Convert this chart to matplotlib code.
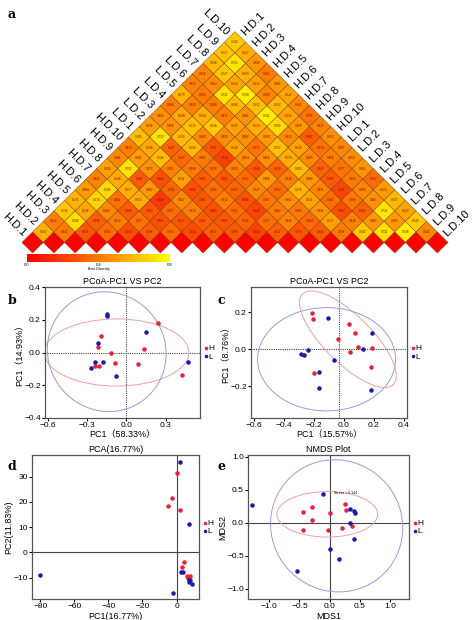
import numpy as np
import matplotlib
matplotlib.use('Agg')
import matplotlib.pyplot as plt
from matplotlib.patches import Polygon, Ellipse
from matplotlib.colors import LinearSegmentedColormap

plt.rcParams['font.family'] = ['Liberation Sans', 'Noto Sans CJK SC', 'DejaVu Sans']

samples = ['H.D.%d' % k for k in range(1, 11)] + ['L.D.%d' % k for k in range(1, 11)]

# upper triangle of beta diversity, row i holds values for j > i
beta_rows = [
    [0.562, 0.412, 0.630, 0.571, 0.494, 0.421, 0.508, 0.441, 0.415, 0.605, 0.506, 0.468, 0.408, 0.579, 0.422, 0.436, 0.588, 0.617, 0.642],
    [0.401, 0.694, 0.536, 0.674, 0.688, 0.546, 0.711, 0.501, 0.538, 0.712, 0.468, 0.540, 0.420, 0.405, 0.452, 0.627, 0.721, 0.557],
    [0.285, 0.308, 0.443, 0.366, 0.557, 0.291, 0.473, 0.604, 0.327, 0.599, 0.613, 0.558, 0.410, 0.712, 0.524, 0.563, 0.488],
    [0.356, 0.412, 0.298, 0.551, 0.482, 0.264, 0.421, 0.347, 0.593, 0.446, 0.634, 0.417, 0.586, 0.749, 0.512, 0.402],
    [0.254, 0.377, 0.290, 0.184, 0.336, 0.511, 0.398, 0.402, 0.281, 0.456, 0.520, 0.466, 0.612, 0.430, 0.481],
    [0.298, 0.265, 0.357, 0.447, 0.262, 0.301, 0.378, 0.214, 0.519, 0.468, 0.550, 0.741, 0.592, 0.522],
    [0.353, 0.277, 0.413, 0.291, 0.366, 0.295, 0.413, 0.454, 0.372, 0.498, 0.689, 0.533, 0.442],
    [0.244, 0.305, 0.260, 0.412, 0.327, 0.351, 0.284, 0.466, 0.612, 0.453, 0.498, 0.376],
    [0.312, 0.283, 0.355, 0.268, 0.447, 0.498, 0.319, 0.553, 0.519, 0.301, 0.422],
    [0.296, 0.331, 0.222, 0.387, 0.352, 0.416, 0.603, 0.445, 0.374, 0.463],
    [0.218, 0.367, 0.402, 0.461, 0.576, 0.488, 0.322, 0.409, 0.437],
    [0.312, 0.426, 0.393, 0.521, 0.431, 0.292, 0.377, 0.458],
    [0.275, 0.344, 0.481, 0.362, 0.226, 0.403, 0.481],
    [0.304, 0.517, 0.255, 0.388, 0.439, 0.352],
    [0.398, 0.416, 0.314, 0.467, 0.505],
    [0.642, 0.487, 0.721, 0.587],
    [0.711, 0.493, 0.523],
    [0.748, 0.646],
    [0.442],
]

# ordination coordinates
b_H_x = [0.24, -0.195, -0.22, -0.12, -0.09, 0.13, 0.09, 0.425, -0.24, -0.21]
b_H_y = [0.18, 0.10, 0.035, -0.005, -0.065, 0.02, -0.07, -0.135, -0.085, -0.085]
b_L_x = [-0.15, -0.15, 0.15, -0.22, -0.24, -0.18, -0.27, -0.08, 0.47]
b_L_y = [0.235, 0.22, 0.125, 0.06, -0.06, -0.06, -0.095, -0.145, -0.06]

c_H_x = [-0.215, -0.21, -0.04, 0.033, 0.075, 0.09, 0.04, 0.185, 0.18, -0.2]
c_H_y = [0.196, 0.163, 0.057, 0.137, 0.089, 0.011, -0.017, 0.006, -0.096, -0.128]
c_L_x = [-0.11, 0.185, 0.125, -0.24, -0.29, -0.27, -0.068, -0.167, -0.167, 0.18]
c_L_y = [0.17, 0.089, 0.0, -0.004, -0.026, -0.033, -0.056, -0.124, -0.206, -0.222]

d_H_x = [0.0, -2.9, -4.9, 1.9, 4.3, 3.3, 6.2, 7.8, 7.0, 6.5]
d_H_y = [31.2, 21.5, 18.4, 16.6, -3.8, -5.7, -9.3, -9.3, -10.1, -9.6]
d_L_x = [1.8, 7.6, -80.2, 2.5, 3.7, 7.2, 8.2, 7.6, 9.1, -1.9]
d_L_y = [35.9, 11.2, -8.8, -7.6, -7.6, -10.9, -10.9, -11.6, -12.5, -16.2]

e_H_x = [0.26, 0.265, -0.3, -0.44, 0.0, -0.29, 0.21, 0.37, -0.445, -0.03]
e_H_y = [0.285, 0.2, 0.235, 0.17, 0.145, 0.05, -0.075, -0.04, -0.105, -0.105]
e_L_x = [-1.29, -0.11, 0.34, 0.4, 0.42, 0.34, 0.4, 0.0, 0.15, -0.545]
e_L_y = [0.275, 0.435, 0.215, 0.185, 0.145, -0.005, -0.24, -0.4, -0.555, -0.73]

RED = '#e8213a'
BLUE = '#1a1aa8'
W, H = 474, 620


def px_axes(fig, left, top, right, bottom):
    return fig.add_axes([left / W, 1 - bottom / H, (right - left) / W, (bottom - top) / H])


fig = plt.figure(figsize=(4.74, 6.2), dpi=100)
cmap = LinearSegmentedColormap.from_list('beta', ['#ff0000', '#ff7a00', '#ffff00'])

# ---- a: triangle heatmap
ax = px_axes(fig, 0, 0, 474, 265)
ax.set_xlim(-1.53, 20.72)
ax.set_ylim(-1.07, 11.5)
ax.axis('off')
n = len(samples)
for i in range(n):
    for j in range(i, n):
        v = 0.0 if i == j else beta_rows[i][j - i - 1]
        cx, cy = (i + j) / 2, (j - i) / 2
        poly = Polygon([(cx - 0.5, cy), (cx, cy + 0.5), (cx + 0.5, cy), (cx, cy - 0.5)],
                       closed=True, facecolor=cmap(v / 0.8), edgecolor='#6a3a1a', lw=0.3)
        ax.add_patch(poly)
        if i != j:
            ax.text(cx, cy, '%.3f' % v, fontsize=2.2, ha='center', va='center', color='#6a1a0a')
for k in range(n):
    ax.text(k / 2 - 0.38, k / 2 + 0.38, samples[k], rotation=-45, rotation_mode='anchor',
            ha='right', va='center', fontsize=8)
    ax.text((k + 19) / 2 + 0.38, (19 - k) / 2 + 0.38, samples[k], rotation=45, rotation_mode='anchor',
            ha='left', va='center', fontsize=8)

cax = px_axes(fig, 27, 254, 170, 262)
grad = np.linspace(0, 0.8, 256).reshape(1, -1)
cax.imshow(grad, aspect='auto', cmap=cmap, extent=[0, 0.8, 0, 1])
cax.set_yticks([])
cax.set_xticks([0, 0.4, 0.8])
cax.tick_params(axis='x', labelsize=3, length=0, pad=1)
cax.set_xlabel('Beta Diversity', fontsize=2.5, labelpad=0)
for s in cax.spines.values():
    s.set_visible(False)


def ord_panel(ax, hx, hy, lx, ly, title, xlabel, ylabel, dashed=True, vline=0.0):
    ls = (0, (1, 1)) if dashed else '-'
    ax.axhline(0, color='#444444', lw=0.8, ls=ls, zorder=1)
    ax.axvline(vline, color='#444444', lw=0.8, ls=ls, zorder=1)
    ax.scatter(hx, hy, s=5, color=RED, zorder=3, label='H')
    ax.scatter(lx, ly, s=5, color=BLUE, zorder=3, label='L')
    ax.set_title(title, fontsize=6.5, pad=2)
    ax.set_xlabel(xlabel, fontsize=6.5, labelpad=1)
    ax.set_ylabel(ylabel, fontsize=6.5, labelpad=0)
    ax.tick_params(labelsize=6, length=2, pad=1)
    for s in ax.spines.values():
        s.set_color('#555555')
        s.set_linewidth(0.9)
    ax.legend(loc='center left', bbox_to_anchor=(1.0, 0.5), frameon=False, fontsize=6,
              handletextpad=-0.3, handlelength=1.2, markerscale=0.7, borderaxespad=0.0,
              borderpad=0.1, labelspacing=0.05)


# ---- b
axb = px_axes(fig, 45, 287, 200, 418)
ord_panel(axb, b_H_x, b_H_y, b_L_x, b_L_y, 'PCoA-PC1 VS PC2', 'PC1（58.33%）', 'PC1（14.93%）')
axb.set_xlim(-0.62, 0.56)
axb.set_ylim(-0.4, 0.4)
axb.set_xticks([-0.6, -0.3, 0.0, 0.3])
axb.set_yticks([-0.4, -0.2, 0.0, 0.2, 0.4])
axb.add_patch(Ellipse((-0.075, 0.0), 1.1, 0.41, fill=False, ec='#e8a0a8', lw=0.7))
axb.add_patch(Ellipse((-0.15, 0.005), 0.905, 0.73, angle=-5, fill=False, ec='#9a9ae0', lw=0.7))

# ---- c
axc = px_axes(fig, 251, 287, 407, 418)
ord_panel(axc, c_H_x, c_H_y, c_L_x, c_L_y, 'PCoA-PC1 VS PC2', 'PC1（15.57%）', 'PC1（8.76%）', vline=-0.035)
axc.set_xlim(-0.62, 0.42)
axc.set_ylim(-0.37, 0.335)
axc.set_xticks([-0.6, -0.4, -0.2, 0.0, 0.2, 0.4])
axc.set_yticks([-0.2, 0.0, 0.2])
axc.add_patch(Ellipse((-0.116, -0.054), 0.92, 0.556, fill=False, ec='#9a9ae0', lw=0.7))
axc.add_patch(Ellipse((0.026, 0.054), 0.78, 0.28, angle=-37, fill=False, ec='#e8a0a8', lw=0.7))

# ---- d
axd = px_axes(fig, 32, 455, 199, 599)
ord_panel(axd, d_H_x, d_H_y, d_L_x, d_L_y, 'PCA(16.77%)', 'PC1(16.77%)', 'PC2(11.83%)', dashed=False)
axd.set_xlim(-84.9, 13.2)
axd.set_ylim(-18.4, 38.5)
axd.set_xticks([-80, -60, -40, -20, 0])
axd.set_yticks([-10, 0, 10, 20, 30])

# ---- e
axe = px_axes(fig, 248, 455, 409, 599)
ord_panel(axe, e_H_x, e_H_y, e_L_x, e_L_y, 'NMDS Plot', 'MDS1', 'MDS2', dashed=False)
axe.set_xlim(-1.35, 1.31)
axe.set_ylim(-1.155, 1.03)
axe.set_xticks([-1.0, -0.5, 0.0, 0.5, 1.0])
axe.set_yticks([-1.0, -0.5, 0.0, 0.5, 1.0])
axe.add_patch(Ellipse((-0.04, 0.13), 1.665, 0.69, fill=False, ec='#e8a0a8', lw=0.7))
axe.add_patch(Ellipse((0.115, -0.045), 2.19, 2.0, angle=-10, fill=False, ec='#9a9ae0', lw=0.7))
axe.text(0.07, 0.46, 'Stress = 0.144', fontsize=2.5, va='center')

for lbl, x, y in [('a', 8, 14), ('b', 8, 300), ('c', 218, 300), ('d', 8, 466), ('e', 218, 466)]:
    fig.text(x / W, 1 - y / H, lbl, fontsize=9, fontweight='bold', family='DejaVu Serif', va='center')

fig.savefig('out.png', dpi=100)
